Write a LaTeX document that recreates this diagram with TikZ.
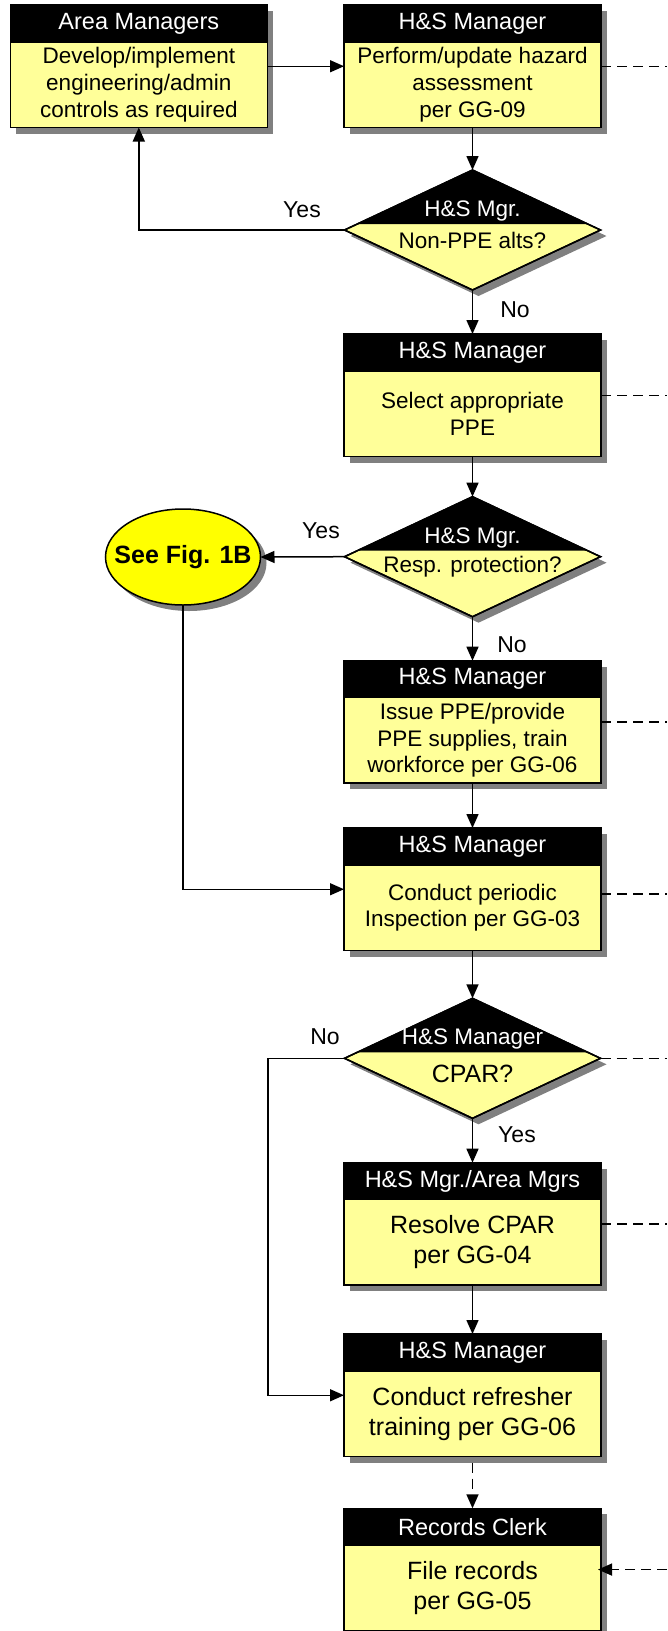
\documentclass[tikz,border=0pt]{standalone}
\usepackage{fontspec}
\setmainfont{Liberation Sans}
\usetikzlibrary{arrows.meta,shapes.geometric,shadows,calc}
\definecolor{paleyellow}{HTML}{FFFF99}
\definecolor{brightyellow}{HTML}{FFFF00}
\definecolor{shadowgray}{HTML}{808080}

% process block: black header band over a pale yellow body
% [#1] body text style, #2 name, #3 x centre, #4 top edge, #5 header, #6 body
\newcommand\stepblock[6][]{%
  \node[block] (#2) at (#3, #4+61.25) {};
  \node[blockhead, anchor=north] (#2-head) at (#2.north) {#5};
  \node[blocktext, #1] (#2-text) at (#3, #4+79.75) {#6};
}

% decision diamond: black cap holding the role, question below
% [#1] question style, #2 name, #3 x, #4 y centre, #5 role, #6 question, #7 question offset
\newcommand\decisionblock[7][]{%
  \node[decision] (#2) at (#3, #4) {};
  \fill[black] (#2.north) -- ($(#2.north)!0.9!(#2.east)$) -- ($(#2.north)!0.9!(#2.west)$) -- cycle;
  \draw[line width=1.5pt, line join=miter] (#2.north) -- (#2.east) -- (#2.south) -- (#2.west) -- cycle;
  \node[blocktext, text=white] (#2-head) at (#3, #4-19) {#5};
  \node[blocktext, #1] (#2-text) at (#3, #4+#7) {#6};
}

\begin{document}
\begin{tikzpicture}[x=1pt, y=-1pt,
  font=\fontsize{22.5}{26.7}\selectfont,
  softshadow/.style={drop shadow={shadow xshift=6pt, shadow yshift=-6pt, fill=shadowgray, opacity=1}},
  block/.style={rectangle, draw, line width=1.5pt, fill=paleyellow,
    minimum width=257pt, minimum height=122.5pt, inner sep=0pt, outer sep=0pt, softshadow},
  blockhead/.style={rectangle, draw, line width=1.5pt, fill=black, text=white,
    minimum width=257pt, minimum height=37pt, inner sep=0pt, outer sep=0pt,
    font=\fontsize{23.5}{28}\selectfont},
  blocktext/.style={align=center, inner sep=0pt},
  bigtext/.style={font=\fontsize{25}{30}\selectfont},
  decision/.style={diamond, draw, line width=1.5pt, fill=paleyellow,
    minimum width=256pt, minimum height=120pt, inner sep=0pt, outer sep=0pt, softshadow},
  terminal/.style={ellipse, draw, line width=1.5pt, fill=brightyellow,
    minimum width=155pt, minimum height=96pt, inner xsep=-14pt, inner ysep=0pt,
    outer sep=0pt, softshadow, font=\fontsize{25}{30}\selectfont\bfseries},
  flow/.style={line width=1.5pt, -{Triangle[length=14pt,width=12pt]}},
  refline/.style={line width=1.5pt, dash pattern=on 10pt off 6pt},
  answer/.style={inner sep=0pt, font=\fontsize{23}{27}\selectfont},
]
\useasboundingbox (0,0) rectangle (667,1631);
\coordinate (edge) at (667,0);

% blocks and decisions
\stepblock{b1}{138.8}{5}{Area Managers}{Develop/implement\\engineering/admin\\controls as required}
\stepblock{b2}{472.5}{5}{H\&S Manager}{Perform/update hazard\\assessment\\per GG-09}
\decisionblock{d1}{472.5}{230}{H\&S Mgr.}{Non-PPE alts?}{10.7}
\stepblock{b3}{472.5}{334}{H\&S Manager}{Select appropriate\\PPE}
\decisionblock{d2}{472.5}{556.7}{H\&S Mgr.}{Resp. protection?}{10}
\node[terminal] (e1) at (183,557) {See Fig. 1B};
\stepblock{b4}{472.5}{660.7}{H\&S Manager}{Issue PPE/provide\\PPE supplies, train\\workforce per GG-06}
\stepblock{b5}{472.5}{828}{H\&S Manager}{Conduct periodic\\Inspection per GG-03}
\decisionblock[bigtext]{d3}{472.5}{1058.3}{H\&S Manager}{CPAR?}{15.7}
\stepblock[bigtext]{b6}{472.5}{1162.7}{H\&S Mgr./Area Mgrs}{Resolve CPAR\\per GG-04}
\stepblock[bigtext]{b7}{472.5}{1334}{H\&S Manager}{Conduct refresher\\training per GG-06}
\stepblock[bigtext]{b8}{472.5}{1508.3}{Records Clerk}{File records\\per GG-05}

% branch labels
\node[answer] (d1-yes) at (302,210) {Yes};
\node[answer] (d1-no) at (515,310) {No};
\node[answer] (d2-yes) at (321,531) {Yes};
\node[answer] (d2-no) at (512,645) {No};
\node[answer] (d3-no) at (325,1037) {No};
\node[answer] (d3-yes) at (517,1135) {Yes};

% main flow
\draw[flow] (b1.east) -- (b2.west);
\draw[flow] (b2.south) -- (d1.north);
\draw[flow] (d1.west) -| (b1.south);
\draw[flow] (d1.south) -- (b3.north);
\draw[flow] (b3.south) -- (d2.north);
\draw[flow] (d2.west) -- (e1.east);
\draw[flow] (d2.south) -- (b4.north);
\draw[flow] (b4.south) -- (b5.north);
\draw[flow] (e1.south) |- (b5.west);
\draw[flow] (b5.south) -- (d3.north);
\coordinate (skip) at (268,1058.3);
\draw[flow] (d3.west) -- (skip) |- (b7.west);
\draw[flow] (d3.south) -- (b6.north);
\draw[flow] (b6.south) -- (b7.north);
\draw[refline, -{Triangle[length=14pt,width=12pt]}, shorten <=6pt] (b7.south) -- (b8.north);

% record links to the right
\draw[refline] (b2.east) -- (b2.east -| edge);
\draw[refline] (b3.east) -- (b3.east -| edge);
\draw[refline] (b4.east) -- (b4.east -| edge);
\draw[refline] ([yshift=-4.5pt]b5.east) -- ([yshift=-4.5pt]b5.east -| edge);
\draw[refline] (d3.east) -- (d3.east -| edge);
\draw[refline] (b6.east) -- (b6.east -| edge);
\draw[refline, -{Triangle[length=14pt,width=12pt]}, shorten >=-3pt] (b8.east -| edge) -- (b8.east);
\end{tikzpicture}
\end{document}
